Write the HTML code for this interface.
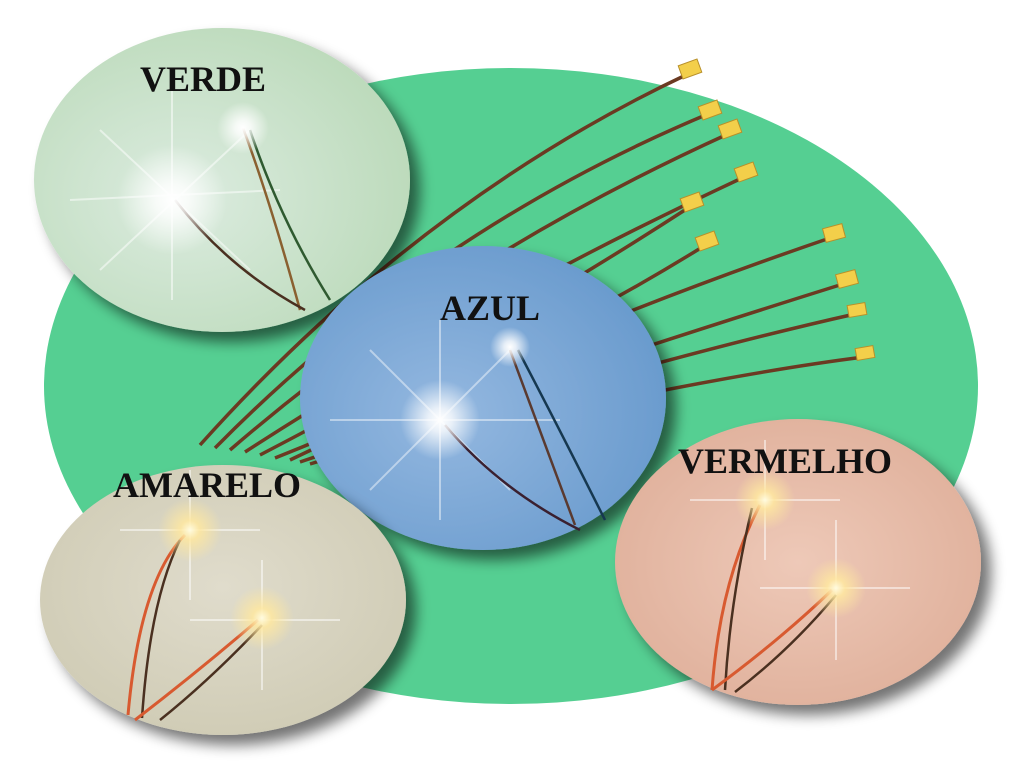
<!DOCTYPE html>
<html><head><meta charset="utf-8"><style>
html,body{margin:0;padding:0;background:#fff;width:1024px;height:768px;overflow:hidden}
svg{display:block}
text{font-family:"Liberation Serif",serif;font-weight:bold;fill:#111}
</style></head><body>
<svg width="1024" height="768" viewBox="0 0 1024 768" xmlns="http://www.w3.org/2000/svg">
<defs>
<filter id="sh" x="-20%" y="-20%" width="150%" height="150%"><feGaussianBlur in="SourceAlpha" stdDeviation="7"/><feOffset dx="10" dy="10"/><feComponentTransfer><feFuncA type="linear" slope="0.55"/></feComponentTransfer><feMerge><feMergeNode/><feMergeNode in="SourceGraphic"/></feMerge></filter>
<radialGradient id="gv" cx="40%" cy="55%" r="70%"><stop offset="0" stop-color="#dcece0"/><stop offset="1" stop-color="#b8d8b6"/></radialGradient>
<radialGradient id="ga" cx="40%" cy="55%" r="70%"><stop offset="0" stop-color="#94b8e0"/><stop offset="1" stop-color="#6497cb"/></radialGradient>
<radialGradient id="gm" cx="50%" cy="45%" r="70%"><stop offset="0" stop-color="#e0dccc"/><stop offset="1" stop-color="#ccc8b0"/></radialGradient>
<radialGradient id="gr" cx="50%" cy="50%" r="70%"><stop offset="0" stop-color="#eec9b8"/><stop offset="1" stop-color="#dcaa94"/></radialGradient>
<radialGradient id="glw" cx="50%" cy="50%" r="50%"><stop offset="0" stop-color="#fff" stop-opacity="1"/><stop offset="0.3" stop-color="#fff" stop-opacity="0.8"/><stop offset="1" stop-color="#fff" stop-opacity="0"/></radialGradient>
<radialGradient id="gly" cx="50%" cy="50%" r="50%"><stop offset="0" stop-color="#fffbe0"/><stop offset="0.3" stop-color="#ffe8a0" stop-opacity="0.85"/><stop offset="1" stop-color="#ffe8a0" stop-opacity="0"/></radialGradient>
</defs>
<ellipse cx="511" cy="386" rx="467" ry="318" fill="#55cf92"/>
<g fill="none" stroke="#6b3a22" stroke-width="3.5">
<path d="M200 445 Q420 200 688 74"/>
<path d="M215 448 Q430 230 708 114"/>
<path d="M230 450 Q450 260 728 134"/>
<path d="M245 452 Q480 300 742 178"/>
<path d="M260 455 Q500 330 688 208"/>
<path d="M275 458 Q520 360 704 246"/>
<path d="M290 460 Q560 330 830 238"/>
<path d="M300 462 Q600 360 843 284"/>
<path d="M310 464 Q650 360 855 314"/>
<path d="M320 466 Q680 380 864 357"/>
</g>
<g fill="#f3cf4a" stroke="#b8902a" stroke-width="1">
<rect x="680" y="62" width="20" height="14" transform="rotate(-20 690 69)"/>
<rect x="700" y="103" width="20" height="14" transform="rotate(-20 710 110)"/>
<rect x="720" y="122" width="20" height="14" transform="rotate(-20 730 129)"/>
<rect x="736" y="165" width="20" height="14" transform="rotate(-20 746 172)"/>
<rect x="682" y="195" width="20" height="14" transform="rotate(-20 692 202)"/>
<rect x="697" y="234" width="20" height="14" transform="rotate(-20 707 241)"/>
<rect x="824" y="226" width="20" height="14" transform="rotate(-15 834 233)"/>
<rect x="837" y="272" width="20" height="14" transform="rotate(-15 847 279)"/>
<rect x="848" y="304" width="18" height="12" transform="rotate(-10 857 310)"/>
<rect x="856" y="347" width="18" height="12" transform="rotate(-10 865 353)"/>
</g>
<!-- VERDE -->
<g filter="url(#sh)"><ellipse cx="222" cy="180" rx="188" ry="152" fill="url(#gv)"/></g>
<g stroke="#fff" stroke-opacity="0.5" stroke-width="2"><path d="M70 200 L280 190 M172 90 L172 300 M100 130 L250 270 M100 270 L250 130"/></g>
<path d="M243 128 Q270 200 300 310" stroke="#8a6030" stroke-width="2.5" fill="none"/>
<path d="M250 130 Q280 220 330 300" stroke="#2f5a30" stroke-width="2.5" fill="none"/>
<path d="M175 200 Q230 270 305 310" stroke="#4a3020" stroke-width="2.5" fill="none"/>
<circle cx="172" cy="200" r="55" fill="url(#glw)"/><circle cx="243" cy="128" r="26" fill="url(#glw)"/>
<text x="140" y="91" font-size="36">VERDE</text>
<!-- AZUL -->
<g filter="url(#sh)"><ellipse cx="483" cy="398" rx="183" ry="152" fill="url(#ga)"/></g>
<g stroke="#fff" stroke-opacity="0.45" stroke-width="2"><path d="M330 420 L560 420 M440 320 L440 520 M370 350 L510 490 M370 490 L510 350"/></g>
<path d="M510 350 Q540 430 575 525" stroke="#5a3a30" stroke-width="2.5" fill="none"/>
<path d="M518 350 Q560 430 605 520" stroke="#163850" stroke-width="2.5" fill="none"/>
<path d="M445 425 Q500 490 580 530" stroke="#3a2030" stroke-width="2.5" fill="none"/>
<circle cx="440" cy="420" r="40" fill="url(#glw)"/><circle cx="510" cy="347" r="20" fill="url(#glw)"/>
<text x="440" y="320" font-size="36">AZUL</text>
<!-- AMARELO -->
<g filter="url(#sh)"><ellipse cx="223" cy="600" rx="183" ry="135" fill="url(#gm)"/></g>
<g stroke="#fff" stroke-opacity="0.5" stroke-width="2"><path d="M120 530 L260 530 M190 470 L190 600 M190 620 L340 620 M262 560 L262 690"/></g>
<path d="M185 535 Q140 580 128 715" stroke="#d85a30" stroke-width="3" fill="none"/>
<path d="M180 540 Q150 600 142 718" stroke="#4a3020" stroke-width="2.5" fill="none"/>
<path d="M258 620 Q200 670 135 720" stroke="#d85a30" stroke-width="3" fill="none"/>
<path d="M262 625 Q210 680 160 720" stroke="#4a3020" stroke-width="2.5" fill="none"/>
<circle cx="190" cy="530" r="32" fill="url(#gly)"/><circle cx="262" cy="618" r="32" fill="url(#gly)"/>
<text x="113" y="497" font-size="36">AMARELO</text>
<!-- VERMELHO -->
<g filter="url(#sh)"><ellipse cx="798" cy="562" rx="183" ry="143" fill="url(#gr)"/></g>
<g stroke="#fff" stroke-opacity="0.5" stroke-width="2"><path d="M690 500 L840 500 M765 440 L765 560 M760 588 L910 588 M836 520 L836 660"/></g>
<path d="M760 505 Q720 580 712 690" stroke="#d85a30" stroke-width="3" fill="none"/>
<path d="M752 508 Q730 600 725 690" stroke="#4a3020" stroke-width="2.5" fill="none"/>
<path d="M832 590 Q780 640 712 690" stroke="#d85a30" stroke-width="3" fill="none"/>
<path d="M836 595 Q790 650 735 692" stroke="#4a3020" stroke-width="2.5" fill="none"/>
<circle cx="765" cy="500" r="30" fill="url(#gly)"/><circle cx="836" cy="588" r="30" fill="url(#gly)"/>
<text x="678" y="473" font-size="36">VERMELHO</text>
</svg>
</body></html>
